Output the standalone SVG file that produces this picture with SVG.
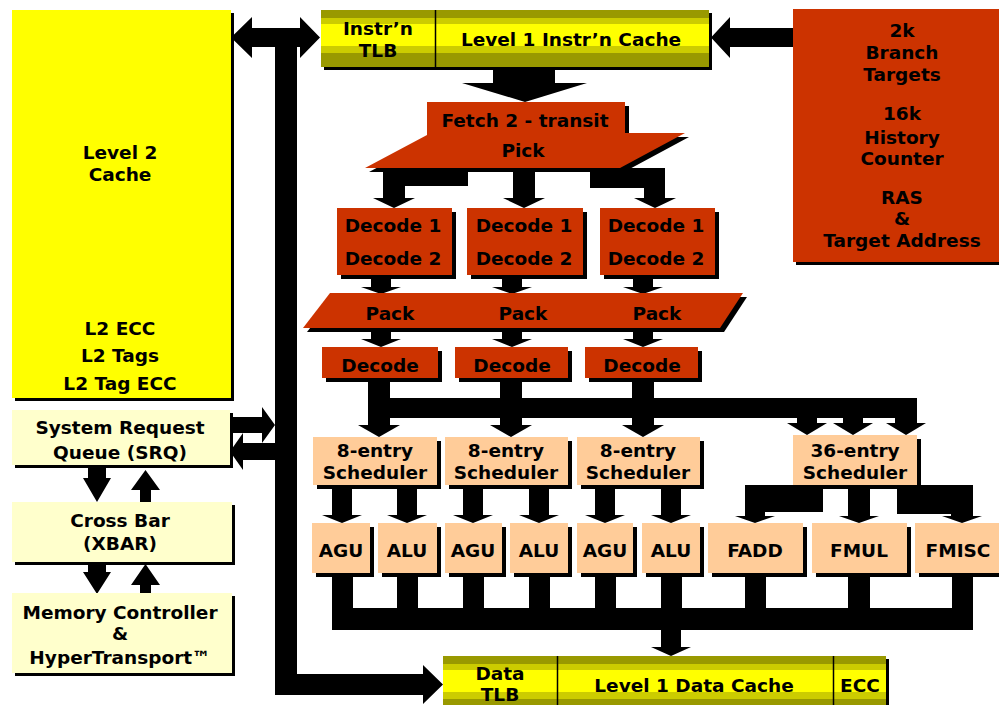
<svg xmlns="http://www.w3.org/2000/svg" width="999" height="705" viewBox="0 0 999 705">
<defs>
<linearGradient id="ol" x1="0" y1="0" x2="0" y2="1">
<stop offset="0" stop-color="#999900"/><stop offset="0.14" stop-color="#999900"/>
<stop offset="0.14" stop-color="#CCCC00"/><stop offset="0.24" stop-color="#CCCC00"/>
<stop offset="0.24" stop-color="#FFFF00"/><stop offset="0.64" stop-color="#FFFF00"/>
<stop offset="0.64" stop-color="#CCCC00"/><stop offset="0.76" stop-color="#CCCC00"/>
<stop offset="0.76" stop-color="#999900"/><stop offset="1" stop-color="#999900"/>
</linearGradient>
<style>
.sh{fill:#000}
.red{fill:#CC3300}
.pe{fill:#FFCC99}
.cr{fill:#FFFFCC}
.ye{fill:#FFFF00}
.ol{fill:url(#ol)}
.k{fill:#000}
text{font-family:"DejaVu Sans","Liberation Sans",sans-serif;font-weight:bold;font-size:18.5px;fill:#000;text-anchor:middle}
</style>
</defs>
<rect width="999" height="705" fill="#fff"/>

<g id="connectors">
<path class="k" d="M231,37.5 L252,17 L252,28 L300,28 L300,17 L320,37.5 L300,58 L300,47 L297,47 L297,674 L423,674 L423,665 L443,684.5 L423,704 L423,695 L275,695 L275,47 L252,47 L252,58 Z"/>
<path class="k" d="M795,28 L730,28 L730,17 L711,37.5 L730,58 L730,47 L795,47 Z"/>
<path class="k" d="M232,417 L262,417 L262,407 L275,425 L262,443 L262,433 L232,433 Z"/>
<path class="k" d="M275,443 L243,443 L243,433 L230,451.5 L243,470 L243,460 L275,460 Z"/>
<path class="k" d="M88,465 L106,465 L106,478 L111,478 L97,502 L83,478 L88,478 Z"/>
<path class="k" d="M140,502 L151,502 L151,490 L160,490 L145.5,470 L131,490 L140,490 Z"/>
<path class="k" d="M88,562 L106,562 L106,572 L111,572 L97,594 L83,572 L88,572 Z"/>
<path class="k" d="M140,593 L151,593 L151,585 L160,585 L145.5,564 L131,585 L140,585 Z"/>
<path class="k" d="M493,67 L555,67 L555,83 L587,83 L525,102 L462,83 L493,83 Z"/>
<path class="k" d="M383,168 L468,168 L468,186 L405,186 L405,198 L415,198 L394,208 L373,198 L383,198 Z"/>
<path class="k" d="M513,168 L535,168 L535,198 L545,198 L524,208 L503,198 L513,198 Z"/>
<path class="k" d="M590,168 L665,168 L665,198 L676,198 L655,208 L634,198 L644,198 L644,188 L590,188 Z"/>
<path class="k" d="M371,279 L391,279 L391,287 L401,287 L381,294 L361,287 L371,287 Z"/>
<path class="k" d="M502,279 L522,279 L522,287 L532,287 L512,294 L492,287 L502,287 Z"/>
<path class="k" d="M633,279 L653,279 L653,287 L663,287 L643,294 L623,287 L633,287 Z"/>
<path class="k" d="M371,330 L391,330 L391,339 L401,339 L381,347 L361,339 L371,339 Z"/>
<path class="k" d="M502,330 L522,330 L522,339 L532,339 L512,347 L492,339 L502,339 Z"/>
<path class="k" d="M633,330 L653,330 L653,339 L663,339 L643,347 L623,339 L633,339 Z"/>
<rect class="k" x="368" y="398" width="549" height="20"/>
<path class="k" d="M368,378 L390,378 L390,425 L400,425 L379,437 L358,425 L368,425 Z"/>
<path class="k" d="M500,378 L522,378 L522,425 L532,425 L511,437 L490,425 L500,425 Z"/>
<path class="k" d="M632,378 L654,378 L654,425 L664,425 L643,437 L622,425 L632,425 Z"/>
<path class="k" d="M797,418 L817,418 L817,423 L827,423 L807,435 L787,423 L797,423 Z"/>
<path class="k" d="M843,418 L863,418 L863,423 L873,423 L853,435 L833,423 L843,423 Z"/>
<path class="k" d="M895,418 L917,418 L917,423 L926,423 L906,435 L886,423 L895,423 Z"/>
<path class="k" d="M332,485 L352,485 L352,515 L362,515 L342,523 L322,515 L332,515 Z"/>
<path class="k" d="M397,485 L417,485 L417,515 L427,515 L407,523 L387,515 L397,515 Z"/>
<path class="k" d="M463,485 L483,485 L483,515 L493,515 L473,523 L453,515 L463,515 Z"/>
<path class="k" d="M529,485 L549,485 L549,515 L559,515 L539,523 L519,515 L529,515 Z"/>
<path class="k" d="M595,485 L615,485 L615,515 L625,515 L605,523 L585,515 L595,515 Z"/>
<path class="k" d="M661,485 L681,485 L681,515 L691,515 L671,523 L651,515 L661,515 Z"/>
<path class="k" d="M745,485 L823,485 L823,512 L765,512 L765,516 L775,516 L755,523 L735,516 L745,516 Z"/>
<path class="k" d="M848,485 L870,485 L870,516 L879,516 L859,523 L839,516 L848,516 Z"/>
<path class="k" d="M897,485 L973,485 L973,516 L982,516 L962,523 L942,516 L951,516 L951,514 L897,514 Z"/>
<rect class="k" x="332" y="608" width="641" height="22"/>
<rect class="k" x="332" y="573" width="21" height="40"/>
<rect class="k" x="397" y="573" width="21" height="40"/>
<rect class="k" x="463" y="573" width="21" height="40"/>
<rect class="k" x="529" y="573" width="21" height="40"/>
<rect class="k" x="595" y="573" width="21" height="40"/>
<rect class="k" x="661" y="573" width="21" height="40"/>
<rect class="k" x="745" y="573" width="21" height="40"/>
<rect class="k" x="848" y="573" width="22" height="40"/>
<rect class="k" x="952" y="573" width="21" height="40"/>
<path class="k" d="M661,628 L681,628 L681,647 L691,647 L671,656 L651,647 L661,647 Z"/>
</g>

<g id="l2cache">
<rect class="sh" x="15" y="13" width="219" height="388"/>
<rect class="ye" x="12" y="10" width="219" height="388"/>
<text x="120" y="159">Level 2</text>
<text x="120" y="181">Cache</text>
<text x="120" y="335">L2 ECC</text>
<text x="120" y="362">L2 Tags</text>
<text x="120" y="390">L2 Tag ECC</text>
</g>

<g id="icache">
<rect class="sh" x="324" y="13" width="388" height="57"/>
<rect class="ol" x="321" y="10" width="114" height="57"/>
<rect class="ol" x="435" y="10" width="274" height="57"/>
<line x1="435.5" y1="10" x2="435.5" y2="67" stroke="#000" stroke-width="1.5"/>
<text x="378" y="35">Instr’n</text>
<text x="378" y="57">TLB</text>
<text x="571" y="46">Level 1 Instr’n Cache</text>
</g>

<g id="branch">
<rect class="sh" x="796" y="12" width="206" height="253"/>
<rect class="red" x="793" y="9" width="206" height="253"/>
<text x="902" y="37">2k</text>
<text x="902" y="59">Branch</text>
<text x="902" y="81">Targets</text>
<text x="902" y="120">16k</text>
<text x="902" y="144">History</text>
<text x="902" y="165">Counter</text>
<text x="902" y="204">RAS</text>
<text x="902" y="225">&amp;</text>
<text x="902" y="247">Target Address</text>
</g>

<g id="fetch">
<polygon class="sh" points="431,106 629,106 629,137 689,137 624,172 369,172 431,139"/>
<polygon class="red" points="427,102 625,102 625,133 685,133 620,168 365,168 427,135"/>
<text x="525" y="127">Fetch 2 - transit</text>
<text x="523" y="157">Pick</text>
</g>

<g id="decode12-1">
<rect class="sh" x="341" y="212" width="115" height="67"/>
<rect class="red" x="337" y="208" width="115" height="67"/>
<text x="393" y="232">Decode 1</text>
<text x="393" y="265">Decode 2</text>
</g>
<g id="decode12-2">
<rect class="sh" x="471" y="212" width="116" height="67"/>
<rect class="red" x="467" y="208" width="116" height="67"/>
<text x="524" y="232">Decode 1</text>
<text x="524" y="265">Decode 2</text>
</g>
<g id="decode12-3">
<rect class="sh" x="604" y="212" width="115" height="67"/>
<rect class="red" x="600" y="208" width="115" height="67"/>
<text x="656" y="232">Decode 1</text>
<text x="656" y="265">Decode 2</text>
</g>

<g id="pack">
<polygon class="sh" points="334,297 747,297 724,332 307,332"/>
<polygon class="red" points="330,293 743,293 720,328 303,328"/>
<text x="390" y="320">Pack</text>
<text x="523" y="320">Pack</text>
<text x="657" y="320">Pack</text>
</g>

<g id="decode-1">
<rect class="sh" x="326" y="351" width="116" height="31"/>
<rect class="red" x="322" y="347" width="116" height="31"/>
<text x="380" y="372">Decode</text>
</g>
<g id="decode-2">
<rect class="sh" x="459" y="351" width="113" height="31"/>
<rect class="red" x="455" y="347" width="113" height="31"/>
<text x="512" y="372">Decode</text>
</g>
<g id="decode-3">
<rect class="sh" x="589" y="351" width="113" height="31"/>
<rect class="red" x="585" y="347" width="113" height="31"/>
<text x="642" y="372">Decode</text>
</g>

<g id="sched-1">
<rect class="sh" x="317" y="441" width="124" height="48"/>
<rect class="pe" x="313" y="437" width="124" height="48"/>
<text x="375" y="457">8-entry</text>
<text x="375" y="479">Scheduler</text>
</g>
<g id="sched-2">
<rect class="sh" x="449" y="441" width="123" height="48"/>
<rect class="pe" x="445" y="437" width="123" height="48"/>
<text x="506" y="457">8-entry</text>
<text x="506" y="479">Scheduler</text>
</g>
<g id="sched-3">
<rect class="sh" x="581" y="441" width="123" height="48"/>
<rect class="pe" x="577" y="437" width="123" height="48"/>
<text x="638" y="457">8-entry</text>
<text x="638" y="479">Scheduler</text>
</g>
<g id="sched-36">
<rect class="sh" x="797" y="439" width="124" height="50"/>
<rect class="pe" x="793" y="435" width="124" height="50"/>
<text x="855" y="457">36-entry</text>
<text x="855" y="479">Scheduler</text>
</g>

<g id="agu-1"><rect class="sh" x="316" y="527" width="58" height="50"/><rect class="pe" x="312" y="523" width="58" height="50"/><text x="341" y="557">AGU</text></g>
<g id="alu-1"><rect class="sh" x="382" y="527" width="59" height="50"/><rect class="pe" x="378" y="523" width="59" height="50"/><text x="407" y="557">ALU</text></g>
<g id="agu-2"><rect class="sh" x="449" y="527" width="57" height="50"/><rect class="pe" x="445" y="523" width="57" height="50"/><text x="473" y="557">AGU</text></g>
<g id="alu-2"><rect class="sh" x="514" y="527" width="58" height="50"/><rect class="pe" x="510" y="523" width="58" height="50"/><text x="539" y="557">ALU</text></g>
<g id="agu-3"><rect class="sh" x="581" y="527" width="56" height="50"/><rect class="pe" x="577" y="523" width="56" height="50"/><text x="605" y="557">AGU</text></g>
<g id="alu-3"><rect class="sh" x="646" y="527" width="58" height="50"/><rect class="pe" x="642" y="523" width="58" height="50"/><text x="671" y="557">ALU</text></g>
<g id="fadd"><rect class="sh" x="712" y="527" width="95" height="50"/><rect class="pe" x="708" y="523" width="95" height="50"/><text x="755" y="557">FADD</text></g>
<g id="fmul"><rect class="sh" x="816" y="527" width="95" height="50"/><rect class="pe" x="812" y="523" width="95" height="50"/><text x="859" y="557">FMUL</text></g>
<g id="fmisc"><rect class="sh" x="919" y="527" width="90" height="50"/><rect class="pe" x="915" y="523" width="90" height="50"/><text x="958" y="557">FMISC</text></g>

<g id="srq">
<rect class="sh" x="15" y="413" width="218" height="55"/>
<rect class="cr" x="12" y="410" width="218" height="55"/>
<text x="120" y="434">System Request</text>
<text x="120" y="459">Queue (SRQ)</text>
</g>
<g id="xbar">
<rect class="sh" x="15" y="505" width="220" height="60"/>
<rect class="cr" x="12" y="502" width="220" height="60"/>
<text x="120" y="527">Cross Bar</text>
<text x="120" y="550">(XBAR)</text>
</g>
<g id="memctl">
<rect class="sh" x="15" y="596" width="220" height="80"/>
<rect class="cr" x="12" y="593" width="220" height="80"/>
<text x="120" y="619">Memory Controller</text>
<text x="120" y="640">&amp;</text>
<text x="120" y="664">HyperTransport™</text>
</g>

<g id="dcache">
<rect class="sh" x="446" y="659" width="443" height="57"/>
<rect class="ol" x="443" y="656" width="114" height="57"/>
<rect class="ol" x="557" y="656" width="276" height="57"/>
<rect class="ol" x="833" y="656" width="53" height="57"/>
<line x1="557.5" y1="656" x2="557.5" y2="713" stroke="#000" stroke-width="1.5"/>
<line x1="833.5" y1="656" x2="833.5" y2="713" stroke="#000" stroke-width="1.5"/>
<text x="500" y="680">Data</text>
<text x="500" y="701">TLB</text>
<text x="694" y="692">Level 1 Data Cache</text>
<text x="860" y="692">ECC</text>
</g>
</svg>
